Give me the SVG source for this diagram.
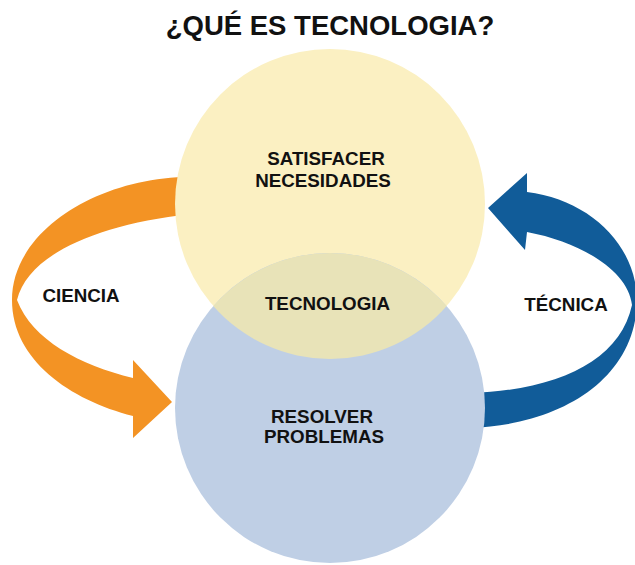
<svg xmlns="http://www.w3.org/2000/svg" width="635" height="565" viewBox="0 0 635 565">
<style>
.t{font-family:"Liberation Sans",Arial,sans-serif;font-weight:bold;fill:#111;text-anchor:middle}
.lbl{font-size:18.8px}
.title{font-size:27.5px}
.orange{fill:#f39324}
.blue{fill:#115c99}
</style>
<rect width="635" height="565" fill="#ffffff"/>
<text class="t title" x="330" y="35">¿QUÉ ES TECNOLOGIA?</text>
<g id="connectors">
  <path id="arrow-ciencia" class="orange" d="M190,177 C100,177 12,230 12,300 C12,360 70,400 133,416 L133,438 L172,402 L133,360 L133,378 C80,365 32,340 17,300 C28,255 95,225 190,214 Z"/>
  <path id="arrow-tecnica" class="blue" d="M470,393 C560,390 620,360 632,305 C628,270 580,242 527,232 L525,250 L488,208 L527,173 L527,192 C590,200 637,245 637,302 C635,380 560,425 470,428 Z"/>
</g>
<g id="node-satisfacer">
  <circle cx="330" cy="204" r="155" fill="#fbf0c2"/>
</g>
<g id="node-resolver">
  <circle cx="330" cy="408" r="155" fill="#bfcfe5"/>
</g>
<g id="node-tecnologia">
  <path d="M213.3,306 A155,155 0 0 1 446.7,306 A155,155 0 0 1 213.3,306 Z" fill="#e8e3b8"/>
  <text class="t lbl" x="327.5" y="310">TECNOLOGIA</text>
</g>
<g id="labels-satisfacer">
  <text class="t lbl" x="326" y="165">SATISFACER</text>
  <text class="t lbl" x="323" y="187">NECESIDADES</text>
</g>
<g id="labels-resolver">
  <text class="t lbl" x="322" y="423">RESOLVER</text>
  <text class="t lbl" x="324" y="443">PROBLEMAS</text>
</g>
<g id="label-ciencia">
  <text class="t lbl" x="81" y="302">CIENCIA</text>
</g>
<g id="label-tecnica">
  <text class="t lbl" x="566" y="311">TÉCNICA</text>
</g>
</svg>
